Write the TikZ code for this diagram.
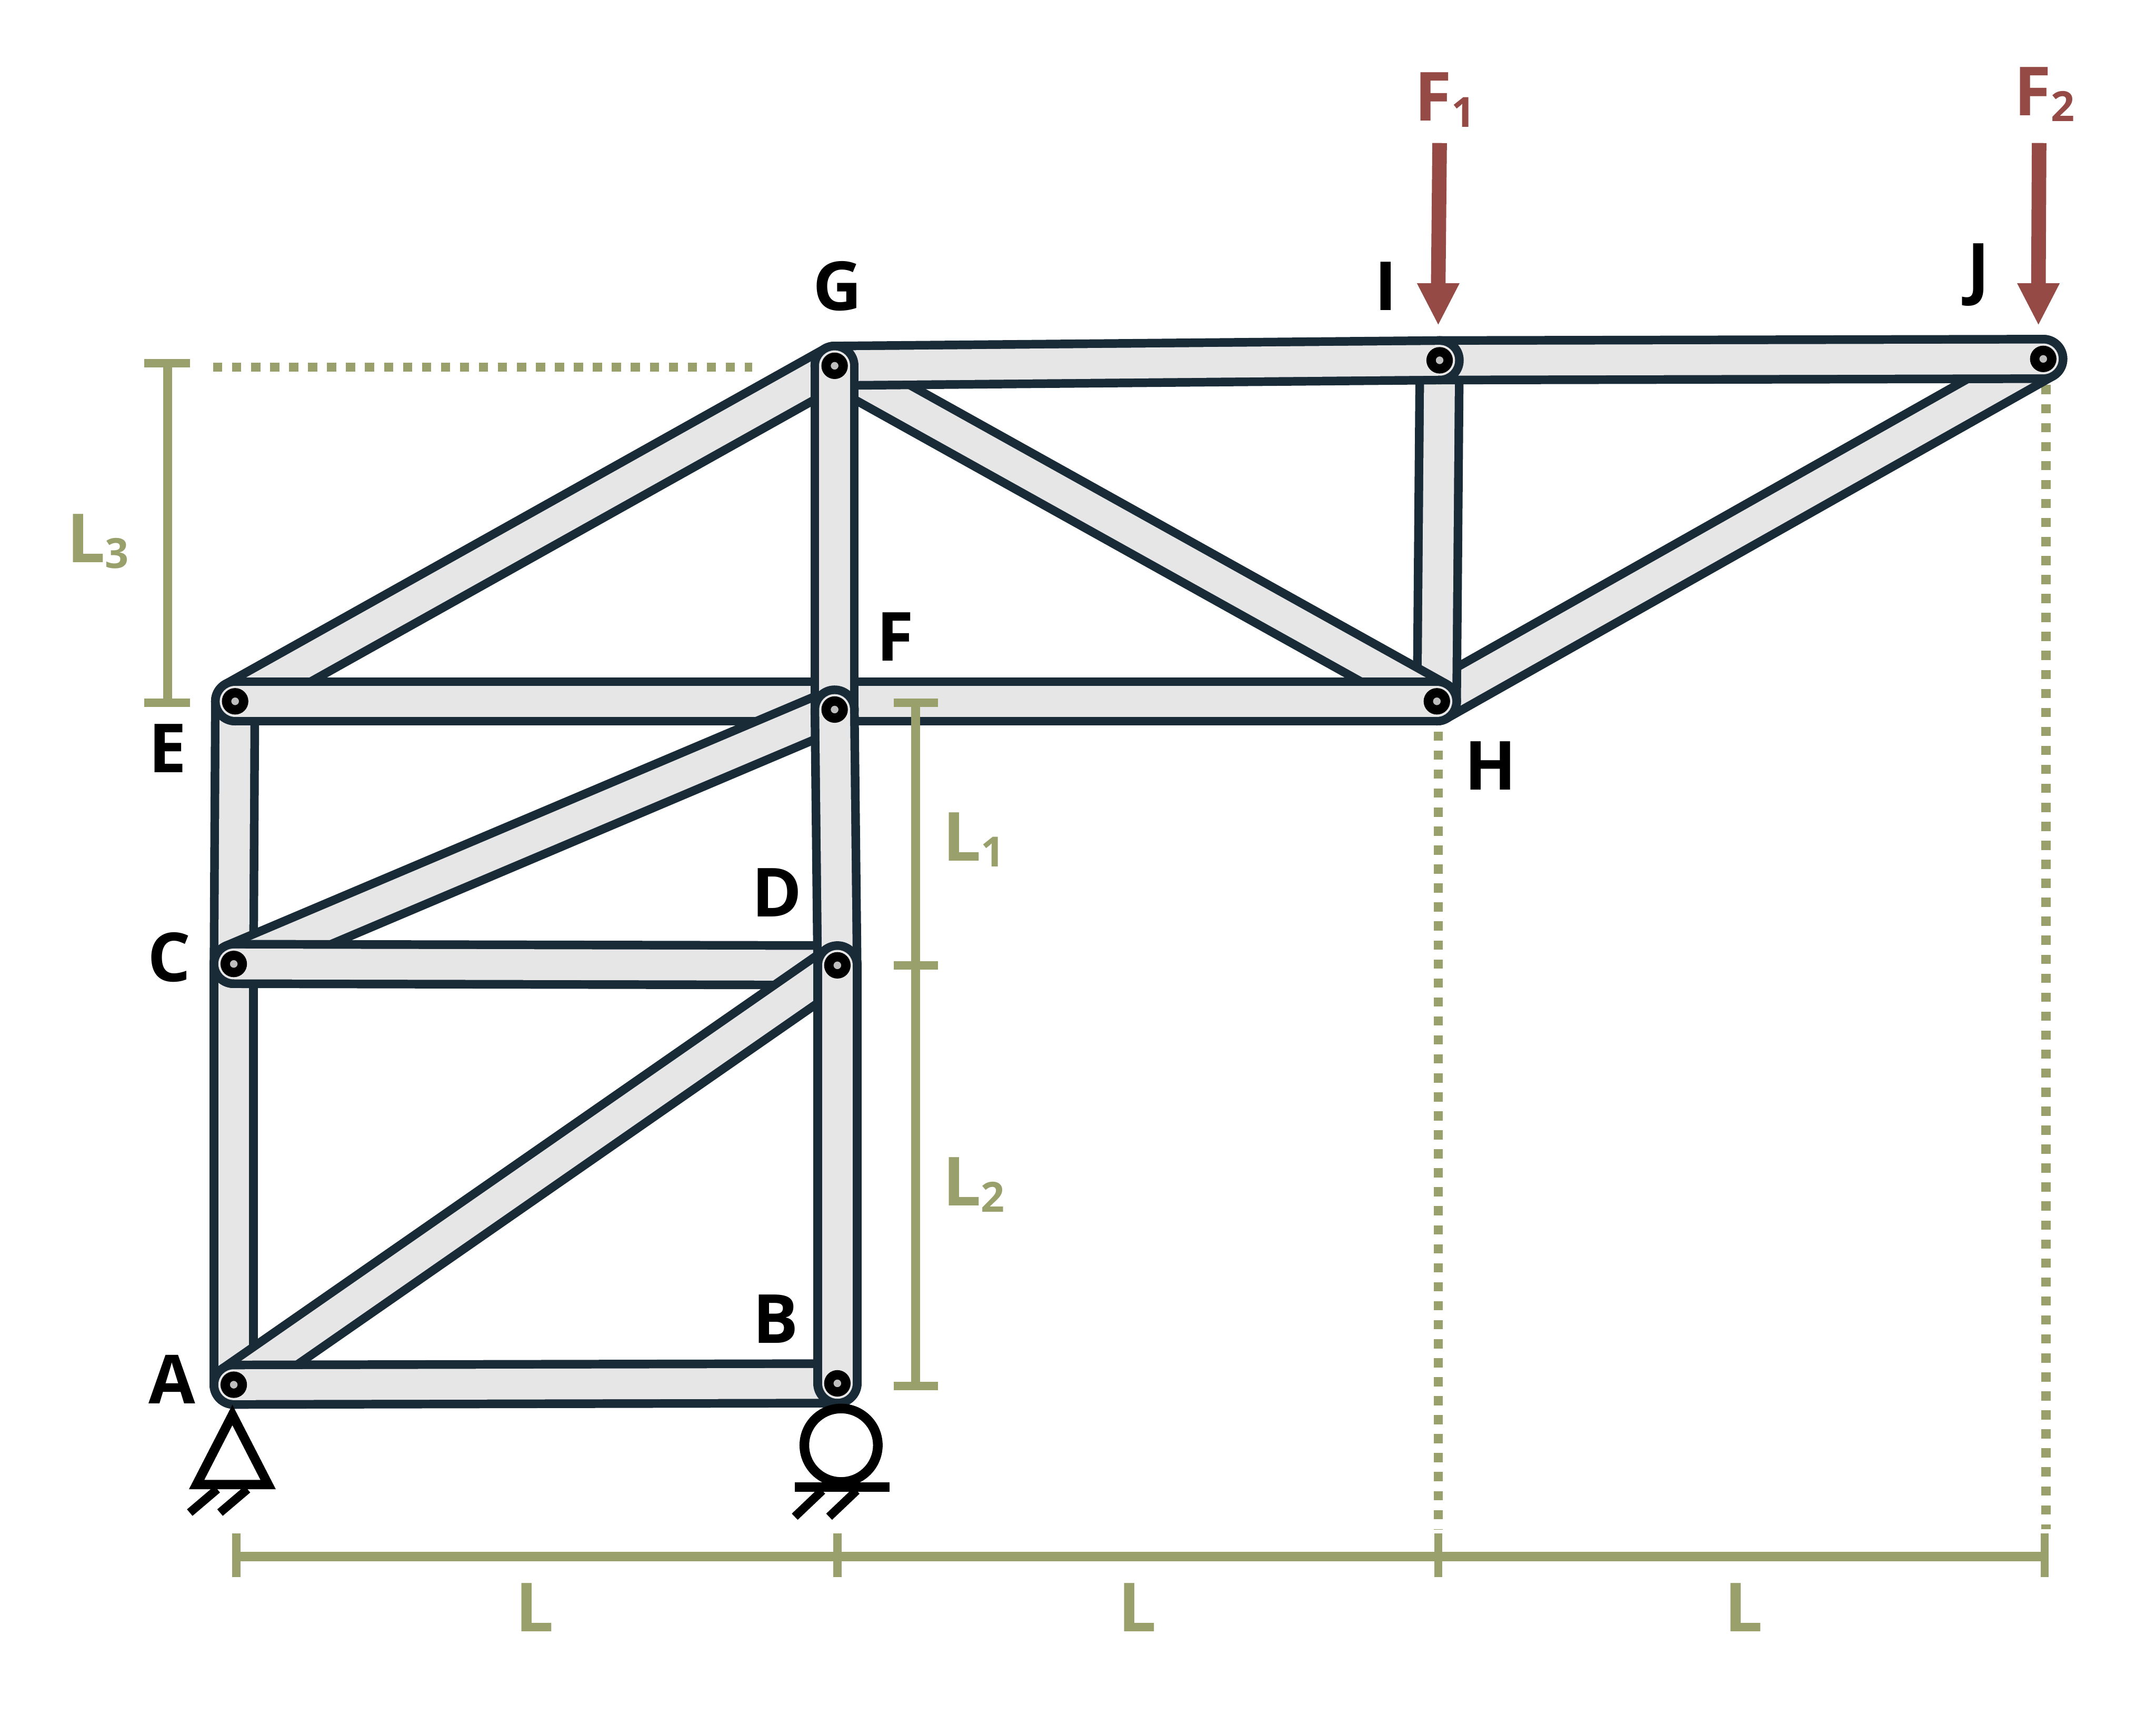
\documentclass[tikz,border=0pt]{standalone}
\usepackage{fontspec}
\setmainfont{Open Sans}
\definecolor{linkdark}{HTML}{1A2B38}
\definecolor{linkfill}{HTML}{E6E6E6}
\definecolor{olive}{HTML}{99A06C}
\definecolor{force}{HTML}{954A45}
\definecolor{pinhole}{HTML}{BEBEBE}
\tikzset{
  linkout/.style={draw=linkdark,line width=0.350cm,line cap=round},
  linkin/.style={draw=linkfill,line width=0.224cm,line cap=round},
  pin/.style={circle,draw=black,fill=pinhole,line width=0.068cm,minimum size=0.124cm,inner sep=0pt},
  dimline/.style={draw=olive,line width=0.066cm},
  ticked/.style={draw=olive,line width=0.060cm},
  dotline/.style={draw=olive,line width=0.066cm,dash pattern=on 0.067cm off 0.071cm},
  support/.style={draw=black,line width=0.068cm,fill=white,miter limit=10},
  hatch/.style={draw=black,line width=0.062cm},
  shaft/.style={draw=force,line width=0.106cm},
  head/.style={fill=force,draw=none},
  jointlabel/.style={inner sep=0pt,font=\fontsize{14}{14}\selectfont\bfseries,text=black},
  dimlabel/.style={inner sep=0pt,font=\fontsize{14}{14}\selectfont\bfseries,text=olive},
  sublabel/.style={inner sep=0pt,anchor=base west,font=\fontsize{14}{14}\selectfont\bfseries},
}
\newcommand{\lnk}[2]{\draw[linkout] (#1) -- (#2);\draw[linkin] (#1) -- (#2);}
\newcommand{\subs}[1]{\raisebox{-0.044cm}{\fontsize{8.6}{8.6}\selectfont #1}}
\begin{document}
\begin{tikzpicture}[x=0.01cm,y=-0.01cm]
\useasboundingbox (0,0) rectangle (1568,1247);
% joints
\coordinate (A) at (170,1007);
\coordinate (B) at (609,1006);
\coordinate (C) at (170,701);
\coordinate (D) at (609,702);
\coordinate (E) at (171,510);
\coordinate (F) at (607,516);
\coordinate (G) at (607,266);
\coordinate (H) at (1045,510);
\coordinate (I) at (1047,262);
\coordinate (J) at (1486,261);
% dimension helpers
\coordinate (d0) at (172,1132);
\coordinate (d1) at (609,1132);
\coordinate (d2) at (1046,1132);
\coordinate (d3) at (1487,1132);
\coordinate (v0) at (666,511);
\coordinate (v1) at (666,702);
\coordinate (v2) at (666,1008);
\coordinate (w0) at (122,264);
\coordinate (w1) at (122,511);
% dotted lines
\coordinate (dotGa) at (155,267);
\coordinate (dotGb) at (547,267);
\coordinate (dotHa) at (1046,532);
\coordinate (dotHb) at (1046,1112);
\coordinate (dotJa) at (1488,280);
\coordinate (dotJb) at (1488,1112);
\draw[dotline] (dotGa) -- (dotGb);
\draw[dotline] (dotHa) -- (dotHb);
\draw[dotline] (dotJa) -- (dotJb);
% links, back to front
\lnk{A}{C}
\lnk{C}{E}
\lnk{E}{G}
\lnk{H}{J}
\lnk{H}{I}
\lnk{G}{H}
\lnk{I}{J}
\lnk{G}{I}
\lnk{E}{H}
\lnk{C}{F}
\lnk{F}{G}
\lnk{C}{D}
\lnk{A}{D}
\lnk{A}{B}
\lnk{D}{F}
\lnk{B}{D}
% pins
\foreach \p in {A,B,C,D,E,F,G,H,I,J} \node[pin] (pin\p) at (\p) {};
% dimension lines
\draw[dimline] (d0) -- (d3);
\foreach \t in {d0,d1,d2,d3}
  \draw[ticked] ([yshift=0.17cm]\t) -- ([yshift=-0.15cm]\t);
\draw[dimline] (v0) -- (v2);
\foreach \t in {v0,v1,v2}
  \draw[ticked] ([xshift=-0.16cm]\t) -- ([xshift=0.16cm]\t);
\draw[dimline] (w0) -- (w1);
\foreach \t in {w0,w1}
  \draw[ticked] ([xshift=-0.17cm]\t) -- ([xshift=0.16cm]\t);
% supports
\coordinate (ta) at (169,1029);
\coordinate (tb) at (143,1079.6);
\coordinate (tc) at (195,1079.6);
\draw[support] (ta) -- (tb) -- (tc) -- cycle;
\coordinate (ah1) at (158,1083);
\coordinate (ah2) at (138,1100);
\coordinate (ah3) at (180,1083);
\coordinate (ah4) at (160,1100);
\draw[hatch] (ah1) -- (ah2);
\draw[hatch] (ah3) -- (ah4);
\node[circle,draw=black,fill=white,line width=0.070cm,minimum size=0.534cm,inner sep=0pt] (roller) at (611.7,1051) {};
\coordinate (rb1) at (578,1081.5);
\coordinate (rb2) at (647,1081.5);
\draw[draw=black,line width=0.070cm] (rb1) -- (rb2);
\coordinate (bh1) at (598,1084);
\coordinate (bh2) at (578,1103);
\coordinate (bh3) at (623,1084);
\coordinate (bh4) at (603,1103);
\draw[hatch] (bh1) -- (bh2);
\draw[hatch] (bh3) -- (bh4);
% forces
\coordinate (f1a) at (1047,104);
\coordinate (f1b) at (1046,207);
\coordinate (f1c) at (1046,236);
\coordinate (f1l) at (1030.5,206);
\coordinate (f1r) at (1061.5,206);
\draw[shaft] (f1a) -- (f1b);
\fill[head] (f1l) -- (f1r) -- (f1c) -- cycle;
\coordinate (f2a) at (1483,104);
\coordinate (f2b) at (1482.5,207);
\coordinate (f2c) at (1482.5,236);
\coordinate (f2l) at (1467,206);
\coordinate (f2r) at (1498,206);
\draw[shaft] (f2a) -- (f2b);
\fill[head] (f2l) -- (f2r) -- (f2c) -- cycle;
% labels
\node[jointlabel] (la) at (125,1003) {A};
\node[jointlabel] (lb) at (564,959) {B};
\node[jointlabel] (lc) at (123,696) {C};
\node[jointlabel] (ld) at (565,649) {D};
\node[jointlabel] (le) at (122,544) {E};
\node[jointlabel] (lf) at (651,463) {F};
\node[jointlabel] (lg) at (609,208) {G};
\node[jointlabel] (lh) at (1084,557) {H};
\node[jointlabel] (li) at (1008,208) {I};
\node[jointlabel] (lj) at (1439,200) {J};
\node[dimlabel] (ll1) at (389,1169) {L};
\node[dimlabel] (ll2) at (827,1169) {L};
\node[dimlabel] (ll3) at (1268,1169) {L};
\node[sublabel,text=olive] (ls1) at (685,626) {L\subs{1}};
\node[sublabel,text=olive] (ls2) at (685,877) {L\subs{2}};
\node[sublabel,text=olive] (ls3) at (48,409) {L\subs{3}};
\node[sublabel,text=force] (lf1) at (1028,88) {F\subs{1}};
\node[sublabel,text=force] (lf2) at (1464,84) {F\subs{2}};
\end{tikzpicture}
\end{document}
